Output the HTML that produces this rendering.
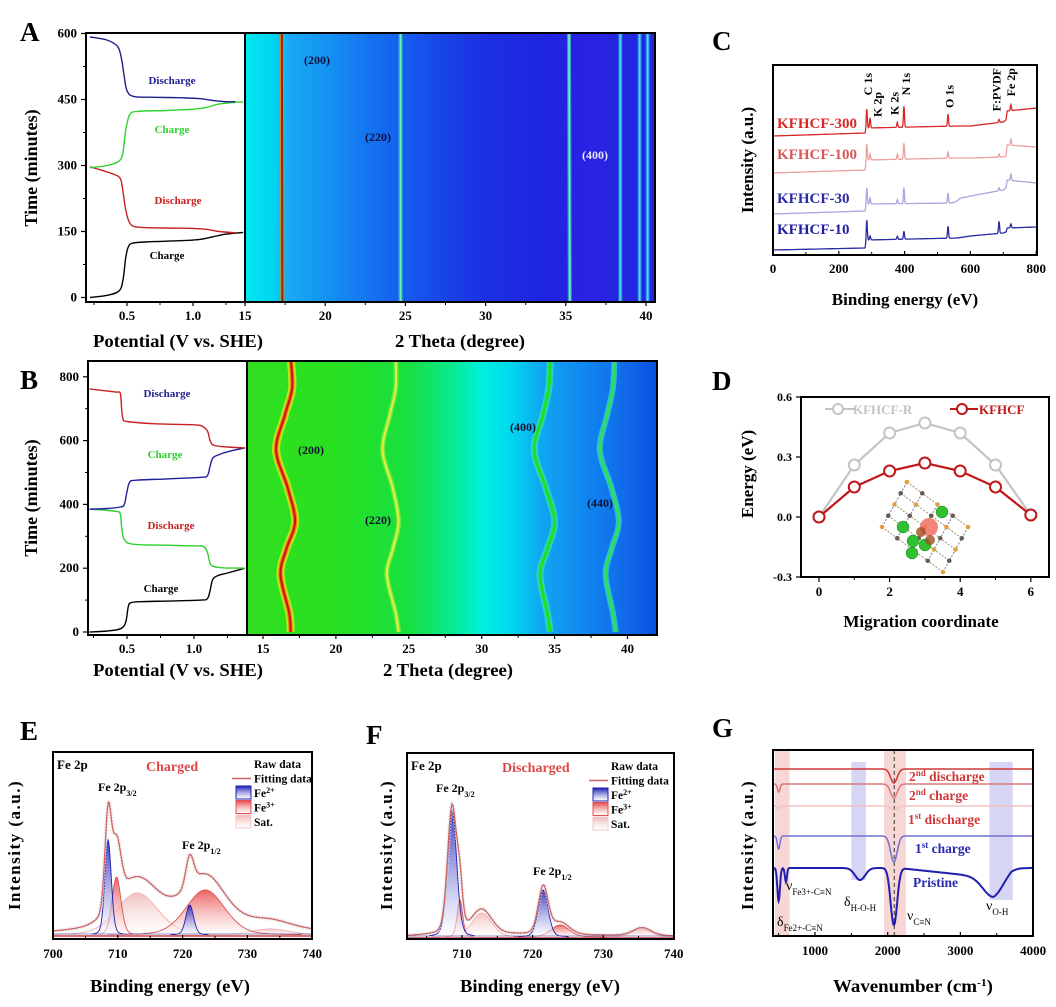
<!DOCTYPE html>
<html><head><meta charset="utf-8">
<style>
html,body{margin:0;padding:0;background:#fff;}
svg{display:block;font-family:"Liberation Serif",serif;}
.t{font-weight:bold;}
</style></head>
<body>
<svg id="fig" xmlns="http://www.w3.org/2000/svg" width="1056" height="1007" viewBox="0 0 1056 1007">
<defs>
<clipPath id="clipAh"><rect x="245" y="33" width="410" height="269"/></clipPath>
<clipPath id="clipBh"><rect x="247" y="361" width="410" height="274"/></clipPath>
<clipPath id="clipE"><rect x="54" y="752" width="259" height="187"/></clipPath>
<clipPath id="clipF"><rect x="407" y="753" width="267" height="186"/></clipPath>
<clipPath id="clipG"><rect x="773" y="750" width="260" height="186"/></clipPath>
<linearGradient id="gBlue" x1="0" y1="0" x2="0" y2="1"><stop offset="0" stop-color="#1a1ab8"/><stop offset="1" stop-color="#ffffff" stop-opacity="0.6"/></linearGradient>
<linearGradient id="gRed" x1="0" y1="0" x2="0" y2="1"><stop offset="0" stop-color="#e84848"/><stop offset="1" stop-color="#ffffff" stop-opacity="0.6"/></linearGradient>
<linearGradient id="gSat" x1="0" y1="0" x2="0" y2="1"><stop offset="0" stop-color="#f0b8b8"/><stop offset="1" stop-color="#ffffff" stop-opacity="0.6"/></linearGradient>
</defs>
<!-- panel letters -->
<text class="t" x="20" y="41" font-size="27">A</text>
<text class="t" x="20" y="389" font-size="27">B</text>
<text class="t" x="712" y="50" font-size="27">C</text>
<text class="t" x="712" y="390" font-size="27">D</text>
<text class="t" x="20" y="740" font-size="27">E</text>
<text class="t" x="366" y="744" font-size="27">F</text>
<text class="t" x="712" y="737" font-size="27">G</text>
<!-- axis titles -->
<text class="t" font-size="18" transform="translate(37,168) rotate(-90)" text-anchor="middle">Time (minutes)</text>
<text class="t" font-size="18" x="178" y="347" text-anchor="middle" textLength="170" lengthAdjust="spacingAndGlyphs">Potential (V vs. SHE)</text>
<text class="t" font-size="18" x="460" y="347" text-anchor="middle" textLength="130" lengthAdjust="spacingAndGlyphs">2 Theta (degree)</text>
<text class="t" font-size="18" transform="translate(37,498) rotate(-90)" text-anchor="middle">Time (minutes)</text>
<text class="t" font-size="18" x="178" y="676" text-anchor="middle" textLength="170" lengthAdjust="spacingAndGlyphs">Potential (V vs. SHE)</text>
<text class="t" font-size="18" x="448" y="676" text-anchor="middle" textLength="130" lengthAdjust="spacingAndGlyphs">2 Theta (degree)</text>
<text class="t" font-size="17" transform="translate(753,160) rotate(-90)" text-anchor="middle">Intensity (a.u.)</text>
<text class="t" font-size="17" x="905" y="305" text-anchor="middle">Binding energy (eV)</text>
<text class="t" font-size="17" transform="translate(753,474) rotate(-90)" text-anchor="middle">Energy (eV)</text>
<text class="t" font-size="17" x="921" y="627" text-anchor="middle">Migration coordinate</text>
<text class="t" font-size="17" transform="translate(20,845) rotate(-90)" text-anchor="middle" letter-spacing="1.5">Intensity (a.u.)</text>
<text class="t" font-size="18" x="170" y="992" text-anchor="middle" textLength="160" lengthAdjust="spacingAndGlyphs">Binding energy (eV)</text>
<text class="t" font-size="17" transform="translate(392,845) rotate(-90)" text-anchor="middle" letter-spacing="1.5">Intensity (a.u.)</text>
<text class="t" font-size="18" x="540" y="992" text-anchor="middle" textLength="160" lengthAdjust="spacingAndGlyphs">Binding energy (eV)</text>
<text class="t" font-size="17" transform="translate(753,845) rotate(-90)" text-anchor="middle" letter-spacing="1.5">Intensity (a.u.)</text>
<text class="t" font-size="18" x="913" y="992" text-anchor="middle" textLength="160" lengthAdjust="spacingAndGlyphs">Wavenumber (cm<tspan baseline-shift="super" font-size="11">-1</tspan>)</text>
</svg>
<script>
// ---------- DATA ----------
// Panel A curves (potential V, time min)
const aChgV=[0.22,0.35,0.44,0.47,0.49,0.51,0.55,0.7,0.9,1.05,1.15,1.25,1.38];
const aChgT=[0,5,15,40,90,115,124,127,129,132,138,144,148];
const aDis1V=[0.22,0.3,0.4,0.45,0.47,0.49,0.52,0.58,0.8,1.0,1.1,1.2,1.32];
const aDis1T=[297,290,280,270,240,200,170,160,158,157,155,150,147];
const aChg2V=[0.22,0.35,0.44,0.47,0.49,0.52,0.58,0.8,1.0,1.1,1.2,1.38];
const aChg2T=[295,300,310,330,380,415,423,425,428,432,440,445];
const aDis2V=[0.22,0.35,0.43,0.46,0.48,0.5,0.55,0.7,0.9,1.05,1.15,1.25,1.32];
const aDis2T=[592,585,570,540,500,470,457,455,454,452,448,445,445];
const aYTicks=[0,150,300,450,600];
const aVTicks=[0.5,1.0];
const aThetaTicks=[15,20,25,30,35,40];
const aBgTheta=[15,16.8,17.8,20,23,27,30,34,36,40.5];
const aBgColor=["#00e8f0","#00d4f0","#18a8f4","#1494f2","#1470f0","#1848e8","#1c30e2","#1e24e0","#2a22e2","#2028e0"];
const aPeaks=[17.3,24.7,35.2,38.4,39.6,40.1];
const aPeakLabels=["(200)","(220)","(400)"];
// Panel B curves
const bChgV=[0.22,0.35,0.45,0.49,0.51,0.53,0.6,0.8,1.05,1.1,1.12,1.14,1.18,1.25,1.38];
const bChgT=[0,3,10,30,80,92,95,97,100,105,130,165,177,185,200];
const bDis1V=[0.22,0.3,0.42,0.45,0.46,0.48,0.55,0.8,1.0,1.07,1.1,1.12,1.15,1.22,1.38];
const bDis1T=[385,383,378,370,330,290,275,272,270,268,250,215,205,201,200];
const bChg2V=[0.22,0.35,0.45,0.48,0.5,0.52,0.57,0.8,1.05,1.1,1.12,1.14,1.18,1.25,1.38];
const bChg2T=[385,387,392,400,440,470,476,480,485,490,520,545,555,565,577];
const bDis2V=[0.22,0.3,0.42,0.45,0.46,0.47,0.5,0.7,0.95,1.05,1.1,1.12,1.15,1.25,1.38];
const bDis2T=[762,758,752,748,700,668,660,653,650,647,630,600,585,580,577];
const bYTicks=[0,200,400,600,800];
const bThetaTicks=[15,20,25,30,35,40];
const bBgTheta=[14,20,25,28,30,32,34,37,40,42.2];
const bBgColor=["#30e020","#28e020","#18e040","#08ea90","#00f0e0","#00d8f0","#10a8f0","#1088f0","#1068e8","#0850e0"];
const bTime=[0,60,179,260,346,451,570,680,765,860];
const bP200=[16.9,16.8,16.2,16.6,17.2,16.7,15.9,16.5,17.0,16.9];
const bP220=[24.3,24.1,23.5,23.9,24.3,23.9,23.2,23.7,24.1,24.1];
const bP400=[34.7,34.5,34.0,34.5,35.0,34.4,33.6,34.2,34.6,34.7];
const bP440=[39.2,39.0,38.5,38.9,39.4,38.9,38.1,38.6,39.0,39.1];
// Panel C
const cTicks=[0,200,400,600,800];
const cBaseX=[0,280,285,560,600,700,708,712,800];
const c300Base=[136,133,128,126,126,122,120,111,108];
const c100Base=[173,170,160,158,158,157,156,145,147];
const c30Base=[214,211,204,203,196,190,188,180,183];
const c10Base=[250,248,240,238,236,233,232,228,227];
const cPeakPos=[285,295,378,398,532,687,723];
const c300H=[19,10,5,21,12,3,6];
const c100H=[16,6,5,16,6,3,6];
const c30H=[16,6,4,16,10,3,6];
const c10H=[20,4,3,8,12,12,4];
const cSeriesNames=["KFHCF-300","KFHCF-100","KFHCF-30","KFHCF-10"];
const cPeakNames=["C 1s","K 2p","K 2s","N 1s","O 1s","F:PVDF","Fe 2p"];
const cPeakLabelE=[288,318,370,405,537,680,723];
// Panel D
const dCoord=[0,1,2,3,4,5,6];
const dKFHCFR=[0.0,0.26,0.42,0.47,0.42,0.26,0.01];
const dKFHCF=[0.0,0.15,0.23,0.27,0.23,0.15,0.01];
const dYTicks=[0.6,0.3,0.0,-0.3];
const dXTicks=[0,2,4,6];
// Panel E (eV, height px, sigma eV)
const eTicks=[700,710,720,730,740];
const eFe2C=[708.5,721.1]; const eFe2H=[95,30]; const eFe2S=[0.5,0.6];
const eFe3C=[709.8,723.5]; const eFe3H=[58,45]; const eFe3S=[0.7,3.0];
const eSatC=[713.0,733.5]; const eSatH=[42,6]; const eSatS=[3.2,3.0];
const eBgX=[700,707,712,718,725,735,740];
const eBgY=[3,6,14,16,14,8,5];
// Panel F
const fTicks=[710,720,730,740];
const fFe2C=[708.6,721.5]; const fFe2H=[127,47]; const fFe2S=[0.65,0.7];
const fFe3C=[709.7,723.9]; const fFe3H=[37,12]; const fFe3S=[0.4,1.3];
const fSatC=[712.8,735.5]; const fSatH=[24,8]; const fSatS=[1.4,1.3];
const fBgX=[702,708,715,725,740];
const fBgY=[1,3,3,2,1];
// Panel G
const gTicks=[1000,2000,3000,4000];
const gDipPos=[500,600,1620,2085,3450];
const gDipW=[18,14,70,45,140];
const gBase=[769,784,806,836,868];
const g2Dis=[0,0,0,14,0];
const g2Chg=[8,0,0,14,0];
const g1Dis=[3,0,0,4,0];
const g1Chg=[13,0,0,26,0];
const gPri=[33,14,12,57,19];
const gNames=["2nd discharge","2nd charge","1st discharge","1st charge","Pristine"];

// ---------- SCALES ----------
const yA=t=>297.5-t*0.44, xAp=v=>127+(v-0.5)*132, xAt=d=>245+(d-15)*16.04;
const yB=t=>632-t*0.319, xBp=v=>127+(v-0.5)*134, xBt=d=>263+(d-15)*14.58;
const xC=e=>773+e*0.329;
const xD=i=>819+i*35.3, yD=v=>517-v*200;
const xE=e=>53+(e-700)*6.48, yE=v=>935-v;
const xF=e=>462+(e-710)*7.06, yF=v=>937-v;
const xG=w=>815+(w-1000)*0.0727;

const NS="http://www.w3.org/2000/svg";
const svg=document.getElementById('fig');
function el(tag,attrs,parent){const e=document.createElementNS(NS,tag);for(const k in attrs)e.setAttribute(k,attrs[k]);(parent||svg).appendChild(e);return e;}
function interp(xs,ys,x){if(x<=xs[0])return ys[0];for(let i=1;i<xs.length;i++){if(x<=xs[i]){const f=(x-xs[i-1])/(xs[i]-xs[i-1]);return ys[i-1]+f*(ys[i]-ys[i-1]);}}return ys[ys.length-1];}
function smooth(pts){let d="M"+pts[0][0].toFixed(1)+","+pts[0][1].toFixed(1);for(let i=0;i<pts.length-1;i++){const p0=pts[i-1]||pts[i],p1=pts[i],p2=pts[i+1],p3=pts[i+2]||p2;const c1=[p1[0]+(p2[0]-p0[0])/6,p1[1]+(p2[1]-p0[1])/6],c2=[p2[0]-(p3[0]-p1[0])/6,p2[1]-(p3[1]-p1[1])/6];d+=" C"+c1[0].toFixed(1)+","+c1[1].toFixed(1)+" "+c2[0].toFixed(1)+","+c2[1].toFixed(1)+" "+p2[0].toFixed(1)+","+p2[1].toFixed(1);}return d;}
function gauss(x,c,h,s){return h*Math.exp(-(x-c)*(x-c)/(2*s*s));}
function pv(x,c,h,s){const g=Math.exp(-(x-c)*(x-c)/(2*s*s));const l=1/(1+(x-c)*(x-c)/(1.4*s*s));return h*(0.8*g+0.2*l);}
function txt(x,y,s,attrs,parent){const t=el('text',Object.assign({x:x,y:y,class:'t'},attrs||{}),parent);t.textContent=s;return t;}
function frame(x,y,w,h,name){const r=el('rect',{x:x,y:y,width:w,height:h,fill:'none',stroke:'#000','stroke-width':2});

}

// ---------- PANEL A ----------
(function(){
 const g=el('g',{});
 
 
 const grad=el('linearGradient',{id:'aBg',gradientUnits:'userSpaceOnUse',x1:xAt(15),x2:xAt(40.5),y1:0,y2:0},svg.querySelector('defs'));
 aBgTheta.forEach((d,i)=>{el('stop',{offset:((xAt(d)-xAt(15))/(xAt(40.5)-xAt(15))).toFixed(4),'stop-color':aBgColor[i]},grad);});
 const hm=el('rect',{x:245,y:33,width:410,height:269,fill:'url(#aBg)'},g);
 
 
 const hg=el('g',{'clip-path':'url(#clipAh)'},g);
 aPeaks.forEach((p,i)=>{
  const x=xAt(p);
  if(i===0){el('line',{x1:x,y1:33,x2:x+0.5,y2:302,stroke:'#f08010','stroke-width':4},hg);
   const ln=el('line',{x1:x,y1:33,x2:x+0.5,y2:302,stroke:'#8a2a10','stroke-width':2},hg);
   
   }
  else{const c=i<3?'#40e8b0':'#30c8f0';
   el('line',{x1:x,y1:33,x2:x+(i==2?0.8:0),y2:302,stroke:c,'stroke-width':4,opacity:0.6},hg);
   const ln=el('line',{x1:x,y1:33,x2:x+(i==2?0.8:0),y2:302,stroke:i<3?'#70f0c0':'#50d8f8','stroke-width':1.6},hg);
   
   }
 });
 const lp=[[317,64,'#101040'],[378,141,'#101040'],[595,159,'#e8e8ff']];
 aPeakLabels.forEach((s,i)=>{const t=txt(lp[i][0],lp[i][1],s,{'font-size':12,'text-anchor':'middle',fill:lp[i][2]},g);
  
  });
 const series=[[aChgV,aChgT,'#000'],[aDis1V,aDis1T,'#c82020'],[aChg2V,aChg2T,'#30d030'],[aDis2V,aDis2T,'#20208a']];
 series.forEach(s=>{const p=el('path',{d:smooth(s[0].map((v,i)=>[xAp(v),yA(s[1][i])])),fill:'none',stroke:s[2],'stroke-width':1.4},g);
  
  });
 const cl=[[172,84,'Discharge','#202090'],[172,133,'Charge','#30d030'],[178,204,'Discharge','#c82020'],[167,259,'Charge','#000']];
 cl.forEach(c=>{const t=txt(c[0],c[1],c[2],{'font-size':11,'text-anchor':'middle',fill:c[3]},g);
  
  });
 frame(86,33,159,269,'a-potential-frame');
 frame(245,33,410,269,'a-heatmap-frame');
 aYTicks.forEach(t=>{const y=yA(t);el('line',{x1:86,y1:y,x2:81,y2:y,stroke:'#000','stroke-width':1.2},g);
  const l=txt(77,y+4,String(t),{'font-size':13,'text-anchor':'end'},g);
  
  });
 for(let t=75;t<600;t+=150){el('line',{x1:86,y1:yA(t),x2:83,y2:yA(t),stroke:'#000'},g);}
 aVTicks.forEach(v=>{const x=xAp(v);el('line',{x1:x,y1:302,x2:x,y2:306,stroke:'#000','stroke-width':1.2},g);
  const l=txt(x,320,v.toFixed(1),{'font-size':13,'text-anchor':'middle'},g);
  
  });
 [0.25,0.75,1.25].forEach(v=>el('line',{x1:xAp(v),y1:302,x2:xAp(v),y2:305,stroke:'#000'},g));
 aThetaTicks.forEach(d=>{const x=xAt(d);el('line',{x1:x,y1:302,x2:x,y2:306,stroke:'#000','stroke-width':1.2},g);
  const l=txt(x,320,String(d),{'font-size':13,'text-anchor':'middle'},g);
  
  });
 for(let d=17.5;d<41;d+=5)el('line',{x1:xAt(d),y1:302,x2:xAt(d),y2:305,stroke:'#000'},g);
})();

// ---------- PANEL B ----------
(function(){
 const g=el('g',{});
 
 
 const grad=el('linearGradient',{id:'bBg',gradientUnits:'userSpaceOnUse',x1:xBt(14),x2:xBt(42.2),y1:0,y2:0},svg.querySelector('defs'));
 bBgTheta.forEach((d,i)=>{el('stop',{offset:((xBt(d)-xBt(14))/(xBt(42.2)-xBt(14))).toFixed(4),'stop-color':bBgColor[i]},grad);});
 const hm=el('rect',{x:247,y:361,width:410,height:274,fill:'url(#bBg)'},g);
 
 
 const hg=el('g',{'clip-path':'url(#clipBh)'},g);
 const peaks=[[bP200,[['#f0f020',8,0.7],['#f08010',4.5,1],['#d01010',2,1]]],[bP220,[['#a0f040',5,0.6],['#e0f040',2,1]]],[bP400,[['#40f0a0',7,0.6],['#20e020',3,1]]],[bP440,[['#40f0c0',6,0.6],['#30e050',2.5,1]]]];
 peaks.forEach(pk=>{const pts=bTime.map((t,i)=>[xBt(pk[0][i]),yB(t)]);const d=smooth(pts);
  pk[1].forEach(st=>{const p=el('path',{d:d,fill:'none',stroke:st[0],'stroke-width':st[1],opacity:st[2]},hg);
   
   });});
 const lp=[[311,454,'(200)'],[378,524,'(220)'],[523,431,'(400)'],[600,507,'(440)']];
 lp.forEach(l=>{const t=txt(l[0],l[1],l[2],{'font-size':12,'text-anchor':'middle',fill:'#101030'},g);
  
  });
 const series=[[bChgV,bChgT,'#000'],[bDis1V,bDis1T,'#30d030'],[bChg2V,bChg2T,'#2020a0'],[bDis2V,bDis2T,'#c82020']];
 series.forEach(s=>{const p=el('path',{d:smooth(s[0].map((v,i)=>[xBp(v),yB(s[1][i])])),fill:'none',stroke:s[2],'stroke-width':1.4},g);
  
  });
 const cl=[[167,397,'Discharge','#202090'],[165,458,'Charge','#30d030'],[171,529,'Discharge','#c82020'],[161,592,'Charge','#000']];
 cl.forEach(c=>{const t=txt(c[0],c[1],c[2],{'font-size':11,'text-anchor':'middle',fill:c[3]},g);
  
  });
 frame(88,361,159,274,'b-potential-frame');
 frame(247,361,410,274,'b-heatmap-frame');
 bYTicks.forEach(t=>{const y=yB(t);el('line',{x1:88,y1:y,x2:83,y2:y,stroke:'#000','stroke-width':1.2},g);
  const l=txt(79,y+4,String(t),{'font-size':13,'text-anchor':'end'},g);
  
  });
 for(let t=100;t<850;t+=200)el('line',{x1:88,y1:yB(t),x2:85,y2:yB(t),stroke:'#000'},g);
 [0.5,1.0].forEach(v=>{const x=xBp(v);el('line',{x1:x,y1:635,x2:x,y2:639,stroke:'#000','stroke-width':1.2},g);
  const l=txt(x,653,v.toFixed(1),{'font-size':13,'text-anchor':'middle'},g);
  
  });
 [0.25,0.75,1.25].forEach(v=>el('line',{x1:xBp(v),y1:635,x2:xBp(v),y2:638,stroke:'#000'},g));
 bThetaTicks.forEach(d=>{const x=xBt(d);el('line',{x1:x,y1:635,x2:x,y2:639,stroke:'#000','stroke-width':1.2},g);
  const l=txt(x,653,String(d),{'font-size':13,'text-anchor':'middle'},g);
  
  });
 for(let d=17.5;d<42;d+=5)el('line',{x1:xBt(d),y1:635,x2:xBt(d),y2:638,stroke:'#000'},g);
})();

// ---------- PANEL C ----------
(function(){
 const g=el('g',{});
 
 
 const bases=[c300Base,c100Base,c30Base,c10Base];
 const hs=[c300H,c100H,c30H,c10H];
 const cols=['#d82828','#eda0a0','#a8a8dc','#2a2aa8'];
 bases.forEach((b,si)=>{let pts=[];for(let e=0;e<=800;e+=1){let y=interp(cBaseX,b,e);cPeakPos.forEach((p,k)=>{y-=gauss(e,p,hs[si][k],1.6);});if(si===2)y-=gauss(e,570,3,12);pts.push(xC(e).toFixed(1)+","+y.toFixed(1));}
  const p=el('polyline',{points:pts.join(' '),fill:'none',stroke:cols[si],'stroke-width':1.3},g);
  
  });
 const lc=['#d82828','#d85858','#2a2aa8','#2020a0'], ly=[128,159,203,234];
 cSeriesNames.forEach((s,i)=>{const t=txt(777,ly[i],s,{'font-size':15,fill:lc[i]},g);
  
  });
 const ptop=[73,92,92,73,85,68,68];
 cPeakNames.forEach((s,i)=>{const x=xC(cPeakLabelE[i])+4;const t=txt(0,0,s,{'font-size':12,transform:'translate('+x.toFixed(1)+','+ptop[i]+') rotate(-90)','text-anchor':'end',fill:'#000'},g);
  
  });
 frame(773,65,264,190,'c-plot-frame');
 cTicks.forEach(e=>{const x=xC(e);el('line',{x1:x,y1:255,x2:x,y2:251,stroke:'#000','stroke-width':1.2},g);
  const l=txt(x,273,String(e),{'font-size':13,'text-anchor':'middle'},g);
  
  });
 for(let e=100;e<800;e+=200)el('line',{x1:xC(e),y1:255,x2:xC(e),y2:252,stroke:'#000'},g);
})();

// ---------- PANEL D ----------
(function(){
 const g=el('g',{});
 
 
 // inset crystal
 const ig=el('g',{},g);
 
 
 const T=[907,482],R=[970,527],Bm=[943,572],L=[882,527];
 const P=(u,v)=>[L[0]+(T[0]-L[0])*u+(Bm[0]-L[0])*v+0*(R[0]),L[1]+(T[1]-L[1])*u+(Bm[1]-L[1])*v];
 const n=4;
 for(let k=0;k<=n;k++){const a=P(k/n,0),b=P(k/n,1);const c=[a[0]+(R[0]-T[0])*0,a[1]];
  el('line',{x1:P(k/n,0)[0],y1:P(k/n,0)[1],x2:P(k/n,1)[0],y2:P(k/n,1)[1],stroke:'#8a8a60','stroke-width':0.9,'stroke-dasharray':'2,1.5'},ig);
  el('line',{x1:P(0,k/n)[0],y1:P(0,k/n)[1],x2:P(1,k/n)[0],y2:P(1,k/n)[1],stroke:'#6a6aa0','stroke-width':0.9,'stroke-dasharray':'2,1.5'},ig);}
 for(let i=0;i<=n;i++)for(let j=0;j<=n;j++){const p=P(i/n,j/n);el('circle',{cx:p[0],cy:p[1],r:2.3,fill:(i+j)%2?'#6a5a50':'#e0a040'},ig);}
 [[942,512],[903,527],[913,541],[912,553],[925,545]].forEach(c=>el('circle',{cx:c[0],cy:c[1],r:6,fill:'#30c030',stroke:'#208020','stroke-width':0.5},ig));
 el('circle',{cx:929,cy:527,r:9,fill:'#f07060',opacity:0.85},ig);
 el('circle',{cx:921,cy:532,r:5,fill:'#a05020',opacity:0.8},ig);
 el('circle',{cx:930,cy:540,r:5,fill:'#a05020',opacity:0.8},ig);
 // series
 const ser=[[dKFHCFR,'#c4c4c4','d-series-kfhcf-r'],[dKFHCF,'#c01818','d-series-kfhcf']];
 ser.forEach(s=>{const p=el('polyline',{points:dCoord.map((c,i)=>xD(c)+','+yD(s[0][i])).join(' '),fill:'none',stroke:s[1],'stroke-width':2.2},g);
  
  
  dCoord.forEach((c,i)=>{const m=el('circle',{cx:xD(c),cy:yD(s[0][i]),r:5.5,fill:'#fff',stroke:s[1],'stroke-width':2},g);
   
   });});
 // legend
 el('line',{x1:825,y1:409,x2:855,y2:409,stroke:'#c4c4c4','stroke-width':2},g);
 el('circle',{cx:838,cy:409,r:5,fill:'#fff',stroke:'#c4c4c4','stroke-width':2},g);
 const l1=txt(853,414,'KFHCF-R',{'font-size':13,fill:'#c4c4c4'},g);
 
 
 el('line',{x1:950,y1:409,x2:978,y2:409,stroke:'#c01818','stroke-width':2},g);
 el('circle',{cx:962,cy:409,r:5,fill:'#fff',stroke:'#c01818','stroke-width':2},g);
 const l2=txt(979,414,'KFHCF',{'font-size':13,fill:'#c01818'},g);
 
 
 frame(801,397,248,180,'d-plot-frame');
 dYTicks.forEach(v=>{const y=yD(v);el('line',{x1:801,y1:y,x2:796,y2:y,stroke:'#000','stroke-width':1.2},g);
  const l=txt(792,y+4,v.toFixed(1),{'font-size':12,'text-anchor':'end'},g);
  
  });
 dXTicks.forEach(c=>{const x=xD(c);el('line',{x1:x,y1:577,x2:x,y2:582,stroke:'#000','stroke-width':1.2},g);
  const l=txt(x,596,String(c),{'font-size':13,'text-anchor':'middle'},g);
  
  });
 [1,3,5].forEach(c=>el('line',{x1:xD(c),y1:577,x2:xD(c),y2:580,stroke:'#000'},g));
})();

// ---------- PANELS E & F ----------
function xps(opt){
 const g=el('g',{});
 
 
 const cg=el('g',{'clip-path':opt.clip},g);
 const xs=opt.xs, ys=opt.ys;
 const bg=e=>interp(opt.bgX,opt.bgY,e);
 const comps=[];
 opt.fe2C.forEach((c,i)=>comps.push([c,opt.fe2H[i],opt.fe2S[i],'url(#gBlue)','#2020b0','fe2']));
 opt.fe3C.forEach((c,i)=>comps.push([c,opt.fe3H[i],opt.fe3S[i],'url(#gRed)','#e05050','fe3']));
 opt.satC.forEach((c,i)=>comps.push([c,opt.satH[i],opt.satS[i],'url(#gSat)','#f0b0b0','sat']));
 const e0=opt.e0,e1=opt.e1;
 // sat first, then fe3, then fe2
 const order=comps.slice().sort((a,b)=>({sat:0,fe3:1,fe2:2}[a[5]]-{sat:0,fe3:1,fe2:2}[b[5]]));
 order.forEach(c=>{let pts=[];for(let e=Math.max(e0,c[0]-5*c[2]);e<=Math.min(e1,c[0]+5*c[2]);e+=0.1)pts.push([xs(e),ys(pv(e,c[0],c[1],c[2]))]);
  const d='M'+pts.map(p=>p[0].toFixed(1)+','+p[1].toFixed(1)).join(' L')+' L'+pts[pts.length-1][0].toFixed(1)+','+ys(0)+' L'+pts[0][0].toFixed(1)+','+ys(0)+'Z';
  const a=el('path',{d:d,fill:c[3],opacity:0.85},cg);
  
  
  el('path',{d:'M'+pts.map(p=>p[0].toFixed(1)+','+p[1].toFixed(1)).join(' L'),fill:'none',stroke:c[4],'stroke-width':0.9},cg);});
 let env=[];for(let e=e0;e<=e1;e+=0.1){let v=bg(e);comps.forEach(c=>v+=pv(e,c[0],c[1],c[2]));env.push(xs(e).toFixed(1)+','+ys(v).toFixed(1));}
 const raw=el('polyline',{points:env.join(' '),fill:'none',stroke:'#d8d8d8','stroke-width':4,'stroke-dasharray':'1.5,1.5',opacity:0.8},cg);
 
 
 const fit=el('polyline',{points:env.join(' '),fill:'none',stroke:'#d06464','stroke-width':1.3},cg);
 
 
 el('line',{x1:xs(e0),y1:ys(0)+1,x2:xs(e1),y2:ys(0)+1,stroke:'#d04040','stroke-width':1.5},cg);
 el('line',{x1:xs(e0),y1:ys(0)-1,x2:xs(e1),y2:ys(0)-1,stroke:'#3030a0','stroke-width':0.8,opacity:0.7},cg);
 frame(opt.box[0],opt.box[1],opt.box[2],opt.box[3],opt.name+'-frame');
 const bx=opt.box[0],by=opt.box[1],bw=opt.box[2],bh=opt.box[3];
 opt.ticks.forEach(t=>{const x=xs(t);el('line',{x1:x,y1:by+bh,x2:x,y2:by+bh-4,stroke:'#000','stroke-width':1.2},g);
  const l=txt(x,by+bh+19,String(t),{'font-size':13,'text-anchor':'middle'},g);
  
  });
 for(let t=705;t<740;t+=10)el('line',{x1:xs(t),y1:by+bh,x2:xs(t),y2:by+bh-3,stroke:'#000'},g);
 const t1=txt(bx+4,by+17,'Fe 2p',{'font-size':13},g);
 
 
 const t2=txt(opt.stateX,by+19,opt.state,{'font-size':14,fill:'#e04848'},g);
 
 
 const lx=opt.legX, ly=opt.legY;
 const leg=[['Raw data',null],['Fitting data','line'],['Fe','url(#gBlue)','2+','#2020b0'],['Fe','url(#gRed)','3+','#e05050'],['Sat.','url(#gSat)',null,'#f0c8c8']];
 leg.forEach((L,i)=>{const y=ly+i*14.5;
  if(L[1]==='line')el('line',{x1:lx-22,y1:y-4,x2:lx-3,y2:y-4,stroke:'#d06464','stroke-width':1.5},g);
  else if(L[1])el('rect',{x:lx-18,y:y-11,width:15,height:13,fill:L[1],stroke:L[3],'stroke-width':1},g);
  const t=txt(lx,y,L[0],{'font-size':11.5},g);
  if(L[2]){const ts=document.createElementNS(NS,'tspan');ts.setAttribute('baseline-shift','super');ts.setAttribute('font-size','8');ts.textContent=L[2];t.appendChild(ts);}
  
  });
 opt.peakLabels.forEach(p=>{const t=txt(p[0],p[1],'Fe 2p',{'font-size':12},g);const ts=document.createElementNS(NS,'tspan');ts.setAttribute('baseline-shift','sub');ts.setAttribute('font-size','8');ts.textContent=p[2];t.appendChild(ts);
  
  });
}
xps({name:'panel-e',clip:'url(#clipE)',xs:xE,ys:yE,e0:700,e1:740,fe2C:eFe2C,fe2H:eFe2H,fe2S:eFe2S,fe3C:eFe3C,fe3H:eFe3H,fe3S:eFe3S,satC:eSatC,satH:eSatH,satS:eSatS,bgX:eBgX,bgY:eBgY,box:[53,752,259,187],ticks:eTicks,state:'Charged',stateX:146,legX:254,legY:768,peakLabels:[[98,791,'3/2'],[182,849,'1/2']]});
xps({name:'panel-f',clip:'url(#clipF)',xs:xF,ys:yF,e0:702,e1:740,fe2C:fFe2C,fe2H:fFe2H,fe2S:fFe2S,fe3C:fFe3C,fe3H:fFe3H,fe3S:fFe3S,satC:fSatC,satH:fSatH,satS:fSatS,bgX:fBgX,bgY:fBgY,box:[407,753,267,186],ticks:fTicks,state:'Discharged',stateX:502,legX:611,legY:770,peakLabels:[[436,792,'3/2'],[533,875,'1/2']]});

// ---------- PANEL G ----------
(function(){
 const g=el('g',{});
 
 
 const cg=el('g',{'clip-path':'url(#clipG)'},g);
 const bands=[[450,650,750,936,'#f4c8c8'],[1500,1700,762,880,'#c8c8f0'],[1950,2250,750,936,'#f4c8c8'],[3400,3720,762,900,'#c8c8f0']];
 bands.forEach(b=>{const r=el('rect',{x:xG(b[0]),y:b[2],width:xG(b[1])-xG(b[0]),height:b[3]-b[2],fill:b[4],opacity:0.75},cg);
  
  });
 const dl=el('line',{x1:xG(2090),y1:750,x2:xG(2090),y2:936,stroke:'#333','stroke-width':1,'stroke-dasharray':'4,3'},cg);
 
 
 const ser=[g2Dis,g2Chg,g1Dis,g1Chg,gPri];
 const cols=['#d03838','#d87878','#f0c4c4','#7070d0','#2020b0'];
 ser.forEach((s,si)=>{let pts=[];for(let w=400;w<=4010;w+=5){let y=gBase[si];gDipPos.forEach((p,k)=>{y+=gauss(w,p,s[k],gDipW[k]);});if(si===4){y+=w>2150&&w<3700?((w-2150)/1300)*10*(w<3450?1:Math.max(0,(3700-w)/250)):0;}pts.push(xG(w).toFixed(1)+','+y.toFixed(1));}
  const p=el('polyline',{points:pts.join(' '),fill:'none',stroke:cols[si],'stroke-width':si===4?2:1.5},cg);
  
  });
 const lab=[[909,781,'2','nd',' discharge','#d03838'],[909,800,'2','nd',' charge','#d03838'],[908,824,'1','st',' discharge','#d03838'],[915,853,'1','st',' charge','#2828b0'],[913,887,'Pristine','','','#2828b0']];
 lab.forEach(L=>{const t=txt(L[0],L[1],L[2],{'font-size':13.5,fill:L[5]},g);
  if(L[3]){const s=document.createElementNS(NS,'tspan');s.setAttribute('baseline-shift','super');s.setAttribute('font-size','9');s.textContent=L[3];t.appendChild(s);const s2=document.createElementNS(NS,'tspan');s2.textContent=L[4];t.appendChild(s2);}
  
  });
 const ann=[[786,890,'ν','Fe3+-C≡N'],[844,906,'δ','H-O-H'],[907,920,'ν','C≡N'],[986,910,'ν','O-H'],[777,926,'δ','Fe2+-C≡N']];
 ann.forEach(a=>{const t=el('text',{x:a[0],y:a[1],'font-size':14,fill:'#000'},g);t.textContent=a[2];const s=document.createElementNS(NS,'tspan');s.setAttribute('baseline-shift','sub');s.setAttribute('font-size','9');s.textContent=a[3];t.appendChild(s);
  
  });
 frame(773,750,260,186,'g-plot-frame');
 gTicks.forEach(w=>{const x=xG(w);el('line',{x1:x,y1:936,x2:x,y2:932,stroke:'#000','stroke-width':1.2},g);
  const l=txt(x,955,String(w),{'font-size':13,'text-anchor':'middle'},g);
  
  });
 [500,1500,2500,3500].forEach(w=>el('line',{x1:xG(w),y1:936,x2:xG(w),y2:933,stroke:'#000'},g));
})();
</script>
</body></html>
